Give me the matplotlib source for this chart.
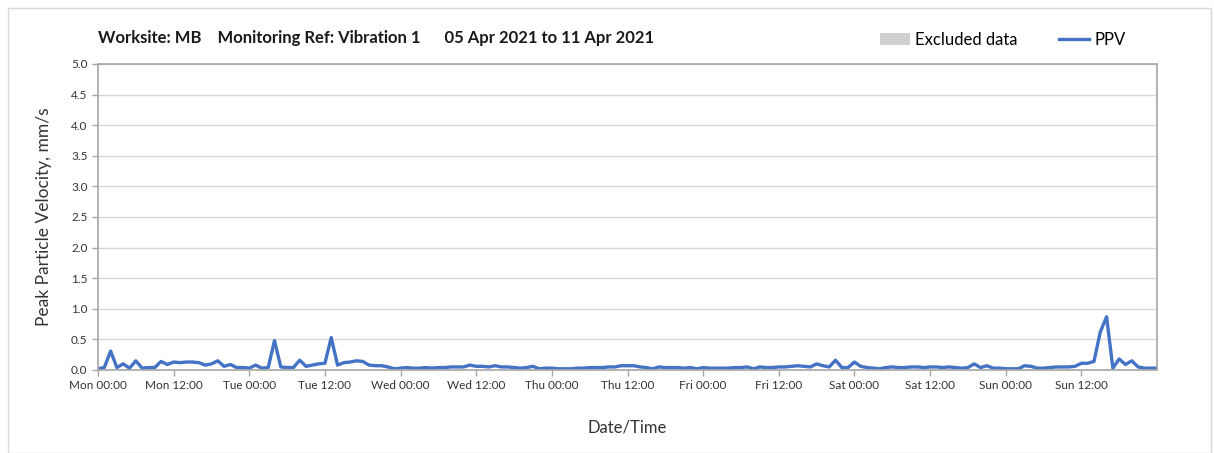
import numpy as np
import matplotlib.pyplot as plt
from matplotlib.patches import Rectangle, Patch
from matplotlib.lines import Line2D

plt.rcParams['font.family'] = ['Lato', 'DejaVu Sans']

# hourly PPV readings, Mon 00:00 .. next Mon 00:00
ppv_mon = [0.02, 0.04, 0.31, 0.04, 0.10, 0.03, 0.15, 0.03, 0.04, 0.04, 0.14, 0.09,
           0.13, 0.12, 0.13, 0.13, 0.12, 0.08, 0.10, 0.15, 0.06, 0.09, 0.04, 0.04]
ppv_tue = [0.03, 0.08, 0.03, 0.04, 0.48, 0.05, 0.04, 0.04, 0.16, 0.06, 0.08, 0.10,
           0.11, 0.53, 0.08, 0.12, 0.13, 0.15, 0.14, 0.08, 0.07, 0.07, 0.05, 0.02]
ppv_wed = [0.03, 0.04, 0.03, 0.03, 0.04, 0.03, 0.04, 0.04, 0.05, 0.05, 0.05, 0.08,
           0.06, 0.06, 0.05, 0.07, 0.05, 0.05, 0.04, 0.03, 0.04, 0.06, 0.02, 0.03]
ppv_thu = [0.03, 0.02, 0.02, 0.02, 0.03, 0.03, 0.04, 0.04, 0.04, 0.05, 0.05, 0.07,
           0.07, 0.07, 0.05, 0.04, 0.02, 0.05, 0.04, 0.04, 0.04, 0.03, 0.04, 0.02]
ppv_fri = [0.04, 0.03, 0.03, 0.03, 0.03, 0.04, 0.04, 0.05, 0.02, 0.05, 0.04, 0.04,
           0.05, 0.05, 0.06, 0.07, 0.06, 0.05, 0.10, 0.07, 0.05, 0.16, 0.04, 0.04]
ppv_sat = [0.13, 0.06, 0.04, 0.03, 0.02, 0.04, 0.05, 0.04, 0.04, 0.05, 0.05, 0.04,
           0.05, 0.05, 0.04, 0.05, 0.04, 0.03, 0.04, 0.10, 0.04, 0.07, 0.03, 0.03]
ppv_sun = [0.02, 0.02, 0.02, 0.07, 0.06, 0.03, 0.03, 0.04, 0.05, 0.05, 0.05, 0.06,
           0.11, 0.11, 0.14, 0.62, 0.87, 0.03, 0.18, 0.09, 0.15, 0.05, 0.03, 0.03, 0.03]

ppv = ppv_mon + ppv_tue + ppv_wed + ppv_thu + ppv_fri + ppv_sat + ppv_sun
hours = np.arange(len(ppv))

days = ['Mon', 'Tue', 'Wed', 'Thu', 'Fri', 'Sat', 'Sun']
tick_labels = [f'{d} {t}' for d in days for t in ['00:00', '12:00']]

fig = plt.figure(figsize=(12.14, 4.53), dpi=100)
ax = fig.add_axes([98 / 1214, 1 - 370 / 453, (1157 - 98) / 1214, (370 - 64) / 453])

# outer chart border
fig.patches.append(Rectangle((8 / 1214, 0.0), 1203 / 1214, 1 - 8 / 453,
                             transform=fig.transFigure, fill=False,
                             edgecolor='#d9d9d9', linewidth=1))

ax.plot(hours, ppv, color='#4472c4', linewidth=2.4)

ax.set_xlim(0, 168)
ax.set_ylim(0, 5)
ax.set_xticks(np.arange(0, 168, 12))
ax.set_xticklabels(tick_labels)
ax.set_xticks(np.arange(0, 169, 24), minor=True)
ax.set_yticks(np.arange(0, 5.01, 0.5))
ax.set_yticklabels([f'{v:.1f}' for v in np.arange(0, 5.01, 0.5)])

ax.grid(False)
ax.grid(axis='y', which='major', color='#d9d9d9', linewidth=1)
ax.grid(axis='x', which='minor', color='#d9d9d9', linewidth=1)
ax.tick_params(axis='x', which='minor', length=0)
ax.tick_params(axis='both', which='major', length=4, width=1, color='#a6a6a6',
               labelsize=8.5, labelcolor='#333333')
for s in ax.spines.values():
    s.set_color('#a6a6a6')
    s.set_linewidth(1.2)
ax.set_axisbelow(True)

ax.set_ylabel('Peak Particle Velocity, mm/s', fontsize=12.5, color='#333333', labelpad=14)
ax.set_xlabel('Date/Time', fontsize=12, color='#333333', labelpad=20)

fig.text(98 / 1214, 1 - 38 / 453,
         'Worksite: MB    Monitoring Ref: Vibration 1      05 Apr 2021 to 11 Apr 2021',
         fontsize=12, fontweight='bold', va='center', ha='left', color='#1a1a1a')

handles = [Patch(facecolor='#d0d0d0', edgecolor='none'),
           Line2D([0], [0], color='#4472c4', linewidth=2.4)]
fig.legend(handles, ['Excluded data', 'PPV'], loc='center right',
           bbox_to_anchor=(1134 / 1214, 1 - 40 / 453), ncol=2, frameon=False,
           fontsize=12, handlelength=1.8, handletextpad=0.3, columnspacing=2.5,
           borderpad=0)

fig.savefig('out.png', dpi=100, facecolor='white')
